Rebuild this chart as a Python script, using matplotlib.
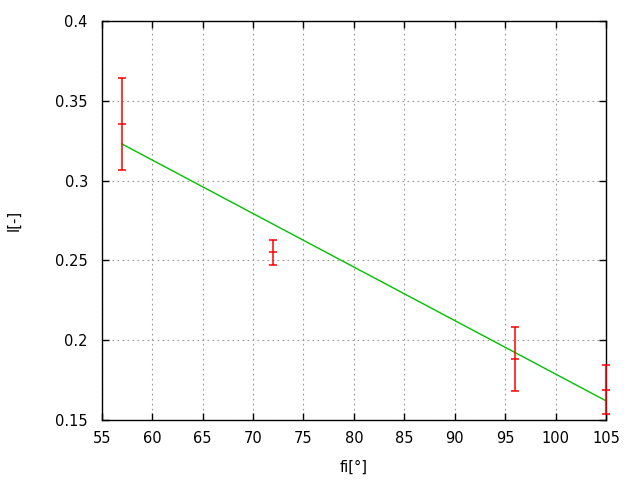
import matplotlib
matplotlib.use("Agg")
import matplotlib.pyplot as plt

# measured points with errors
fi = [57, 72, 96, 105]
intensity = [0.3356, 0.255, 0.188, 0.169]
err = [0.0288, 0.0077, 0.020, 0.0153]

# linear fit line
fit_x = [57, 105]
fit_y = [0.323, 0.162]

plt.rcParams['font.family'] = ['DejaVu Sans']

fig = plt.figure(figsize=(6.4, 4.8), dpi=100)
ax = fig.add_axes([0.159, 0.125, 0.788, 0.831])

ax.plot(fit_x, fit_y, color='#00c000', lw=1, zorder=2)
ax.errorbar(fi, intensity, yerr=err, fmt='_', color='#ff0000', ecolor='#ff0000',
            elinewidth=1.1, capsize=2.7, capthick=1.1, markersize=5.5, mew=1.1,
            clip_on=False, zorder=3)

ax.set_xlim(55, 105)
ax.set_ylim(0.15, 0.4)
ax.set_xticks(range(55, 106, 5))
ax.set_yticks([0.15, 0.2, 0.25, 0.3, 0.35, 0.4])
ax.set_yticklabels(['0.15', '0.2', '0.25', '0.3', '0.35', '0.4'])

ax.grid(True, color='#999999', linestyle=(0, (1.5, 3)), linewidth=0.8)
ax.tick_params(direction='in', length=5, width=1, top=True, right=True,
               labelsize=10.5, colors='black')
ax.tick_params(axis='x', pad=8)
ax.tick_params(axis='y', pad=10)
for s in ax.spines.values():
    s.set_linewidth(1)

ax.set_xlabel('fi[°]', fontsize=10.5, labelpad=10)
ax.set_ylabel('I[-]', fontsize=10.5, labelpad=24)

fig.savefig('out.png', dpi=100)
